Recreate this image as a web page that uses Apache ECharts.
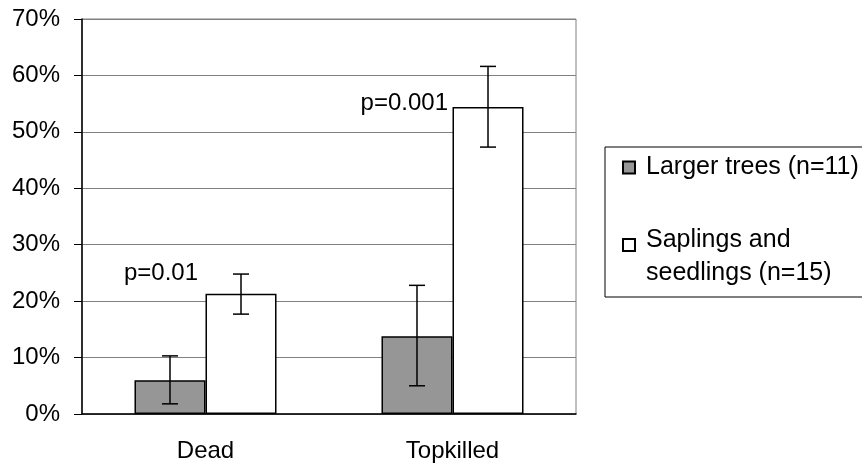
<!DOCTYPE html>
<html>
<head>
<meta charset="utf-8">
<script src="https://cdn.jsdelivr.net/npm/echarts@6/dist/echarts.min.js"></script>
<style>html,body{margin:0;padding:0;background:#fff;}#c{width:862px;height:467px;}</style>
</head>
<body>
<div id="c"></div>
<script>
var categories = ['Dead', 'Topkilled'];
var seriesNames = ['Larger trees (n=11)', 'Saplings and seedlings (n=15)'];
var largerValues = [6.0, 13.8];
var largerLow = [1.8, 5.0];
var largerHigh = [10.3, 22.8];
var saplingValues = [21.3, 54.4];
var saplingLow = [17.7, 47.3];
var saplingHigh = [24.8, 61.6];
var pLabels = ['p=0.01', 'p=0.001'];
var pLabelY = [25.0, 55.1];
var yTicks = [0, 10, 20, 30, 40, 50, 60, 70];

var chart = echarts.init(document.getElementById('c'), null, {renderer: 'canvas'});
var FONT = 'Liberation Sans, Arial, sans-serif';
var BAR_FRAC = 0.2875;
var P_DIST = [43, 40];

function errorSeries(name, low, high, sign) {
  var data = categories.map(function (c, i) { return [i, low[i], high[i]]; });
  return {
    type: 'custom',
    name: name + ' err',
    data: data,
    z: 10,
    silent: true,
    renderItem: function (params, api) {
      var idx = api.value(0);
      var lo = api.coord([idx, api.value(1)]);
      var hi = api.coord([idx, api.value(2)]);
      var catW = api.size([1, 0])[0];
      var x = lo[0] + sign * catW * BAR_FRAC / 2;
      var cap = 8;
      var st = {stroke: '#000', lineWidth: 1.5};
      return {
        type: 'group',
        children: [
          {type: 'line', shape: {x1: x, y1: lo[1], x2: x, y2: hi[1]}, style: st},
          {type: 'line', shape: {x1: x - cap, y1: lo[1], x2: x + cap, y2: lo[1]}, style: st},
          {type: 'line', shape: {x1: x - cap, y1: hi[1], x2: x + cap, y2: hi[1]}, style: st}
        ]
      };
    }
  };
}

var option = {
  animation: false,
  backgroundColor: '#fff',
  grid: {left: 82, right: 286, top: 19, bottom: 53, show: true, borderColor: '#808080', borderWidth: 1},
  legend: {
    orient: 'vertical',
    left: 605,
    top: 147,
    data: seriesNames,
    backgroundColor: '#fff',
    borderColor: '#000',
    borderWidth: 1,
    padding: [5, 80, 7.5, 17],
    itemGap: 17.5,
    itemWidth: 12,
    itemHeight: 12,
    icon: 'rect',
    selectedMode: false,
    formatter: function (n) {
      if (n.indexOf('Saplings and ') === 0) {
        return '{s| }\n{t|Saplings and}\n{t|' + n.replace('Saplings and ', '') + '}';
      }
      return '{f|' + n + '}';
    },
    textStyle: {
      fontFamily: FONT, fontSize: 25, color: '#000', lineHeight: 31, padding: [0, 0, 0, 6],
      rich: {
        s: {fontFamily: FONT, fontSize: 10, lineHeight: 23},
        f: {fontFamily: FONT, fontSize: 25, color: '#000', lineHeight: 31},
        t: {fontFamily: FONT, fontSize: 25, color: '#000', lineHeight: 33}
      }
    }
  },
  xAxis: {
    type: 'category',
    data: categories,
    axisLine: {lineStyle: {color: '#000', width: 1.5}},
    axisTick: {length: 8, lineStyle: {color: '#000'}},
    axisLabel: {fontFamily: FONT, fontSize: 24, color: '#000', margin: 25},
    splitLine: {show: false}
  },
  yAxis: {
    type: 'value',
    min: 0,
    max: 70,
    interval: 10,
    axisLine: {show: true, lineStyle: {color: '#000', width: 1.5}},
    axisTick: {show: true, length: 8, lineStyle: {color: '#000'}},
    axisLabel: {fontFamily: FONT, fontSize: 24, color: '#000', margin: 22, formatter: function (v) { return yTicks.indexOf(v) >= 0 ? v + '%' : ''; }},
    splitLine: {show: true, lineStyle: {color: '#808080', width: 1}}
  },
  series: [
    {
      type: 'bar',
      name: seriesNames[0],
      data: largerValues,
      barWidth: '28.75%',
      barGap: '0%',
      itemStyle: {color: '#969696', borderColor: '#000', borderWidth: 1.5}
    },
    {
      type: 'bar',
      name: seriesNames[1],
      data: saplingValues,
      barWidth: '28.75%',
      barGap: '0%',
      itemStyle: {color: '#ffffff', borderColor: '#000', borderWidth: 1.5},
      markPoint: {
        symbol: 'circle',
        symbolSize: 0,
        data: categories.map(function (c, i) {
          return {coord: [i, pLabelY[i]], value: pLabels[i], label: {distance: P_DIST[i]}};
        }),
        label: {show: true, position: 'left', formatter: '{c}', fontFamily: FONT, fontSize: 24, color: '#000'}
      }
    },
    errorSeries(seriesNames[0], largerLow, largerHigh, -1),
    errorSeries(seriesNames[1], saplingLow, saplingHigh, 1)
  ]
};
chart.setOption(option);
</script>
</body>
</html>
